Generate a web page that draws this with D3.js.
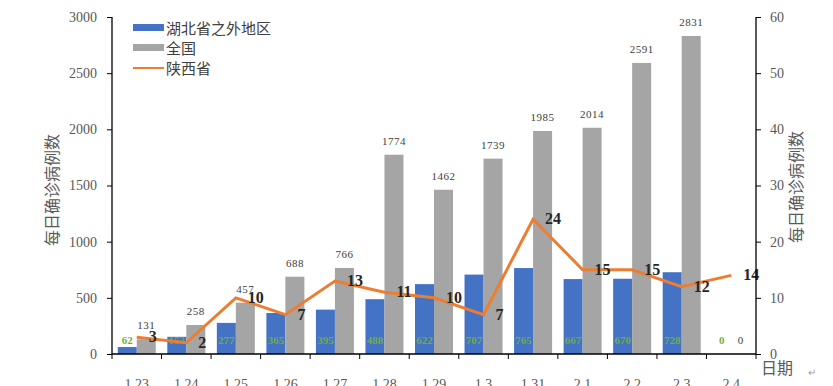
<!DOCTYPE html>
<html>
<head>
<meta charset="utf-8">
<script src="https://cdn.jsdelivr.net/npm/d3@7"></script>
<style>
  body { margin: 0; background: #fff; }
  svg text { font-family: "Liberation Serif", serif; }
</style>
</head>
<body>
<div class="canvas"></div>
<script>
const categories = ['1.23', '1.24', '1.25', '1.26', '1.27', '1.28', '1.29', '1.3', '1.31', '2.1', '2.2', '2.3', '2.4'];
const outsideHubei = [62, 153, 277, 365, 395, 488, 622, 707, 765, 667, 670, 728, 0];
const national = [131, 258, 457, 688, 766, 1774, 1462, 1739, 1985, 2014, 2591, 2831, 0];
const shaanxi = [3, 2, 10, 7, 13, 11, 10, 7, 24, 15, 15, 12, 14];
const leftTicks = [0, 500, 1000, 1500, 2000, 2500, 3000];
const rightTicks = [0, 10, 20, 30, 40, 50, 60];

const dims = { width: 833, height: 386 };
const plot = { left: 112, right: 756, top: 17, bottom: 354 };
const cjk = '"Noto Sans CJK SC", sans-serif';

const svg = d3
  .select('.canvas')
  .append('svg')
  .attr('width', dims.width)
  .attr('height', dims.height);

// scales
const x = d3.scaleBand().domain(categories).range([plot.left, plot.right]);
const yLeft = d3.scaleLinear().domain([0, 3000]).range([plot.bottom, plot.top]);
const yRight = d3.scaleLinear().domain([0, 60]).range([plot.bottom, plot.top]);

const barW = 19;
const blueX = (c) => x(c) + x.bandwidth() / 2 - barW;
const grayX = (c) => x(c) + x.bandwidth() / 2;

// bars
svg
  .selectAll('rect.blue')
  .data(categories)
  .enter()
  .append('rect')
  .attr('x', (d) => blueX(d))
  .attr('y', (d, i) => yLeft(outsideHubei[i]))
  .attr('width', barW)
  .attr('height', (d, i) => plot.bottom - yLeft(outsideHubei[i]))
  .attr('fill', '#4472C4');

svg
  .selectAll('rect.gray')
  .data(categories)
  .enter()
  .append('rect')
  .attr('x', (d) => grayX(d))
  .attr('y', (d, i) => yLeft(national[i]))
  .attr('width', barW)
  .attr('height', (d, i) => plot.bottom - yLeft(national[i]))
  .attr('fill', '#A5A5A5');

// bar labels
svg
  .selectAll('text.blueLbl')
  .data(categories)
  .enter()
  .append('text')
  .attr('x', (d) => blueX(d) + barW / 2)
  .attr('y', 344)
  .attr('text-anchor', 'middle')
  .attr('font-family', 'Roboto, sans-serif')
  .attr('font-weight', 'bold')
  .attr('font-size', 11)
  .attr('fill', '#70AD47')
  .text((d, i) => outsideHubei[i]);

svg
  .selectAll('text.grayLbl')
  .data(categories)
  .enter()
  .append('text')
  .attr('x', (d) => grayX(d) + barW / 2)
  .attr('y', (d, i) => Math.min(yLeft(national[i]) - 10, 344))
  .attr('text-anchor', 'middle')
  .attr('font-size', 11)
  .attr('letter-spacing', 0.5)
  .attr('fill', '#404040')
  .text((d, i) => national[i]);

// orange line
const line = d3
  .line()
  .x((d, i) => x(categories[i]) + x.bandwidth() / 2)
  .y((d) => yRight(d));

svg
  .append('path')
  .datum(shaanxi)
  .attr('d', line)
  .attr('fill', 'none')
  .attr('stroke', '#ED7D31')
  .attr('stroke-width', 3);

svg
  .selectAll('text.lineLbl')
  .data(shaanxi)
  .enter()
  .append('text')
  .attr('x', (d, i) => x(categories[i]) + x.bandwidth() / 2 + 12)
  .attr('y', (d) => yRight(d) + 5)
  .attr('font-weight', 'bold')
  .attr('font-size', 16)
  .attr('fill', '#262626')
  .text((d) => d);

// axes
const leftAxis = svg
  .append('g')
  .attr('transform', `translate(${plot.left},0)`)
  .call(d3.axisLeft(yLeft).tickValues(leftTicks).tickFormat(d3.format('d')).tickSize(5).tickPadding(10));

const rightAxis = svg
  .append('g')
  .attr('transform', `translate(${plot.right},0)`)
  .call(d3.axisRight(yRight).tickValues(rightTicks).tickSize(5).tickPadding(9));

const bottomAxis = svg
  .append('g')
  .attr('transform', `translate(0,${plot.bottom})`)
  .call(d3.axisBottom(x).tickSize(0).tickPadding(25));

// band boundary ticks
bottomAxis
  .selectAll('line.bt')
  .data(categories.concat(['end']))
  .enter()
  .append('line')
  .attr('x1', (d, i) => plot.left + i * x.bandwidth())
  .attr('x2', (d, i) => plot.left + i * x.bandwidth())
  .attr('y1', 0)
  .attr('y2', 5)
  .attr('stroke', '#000');

[leftAxis, rightAxis, bottomAxis].forEach((g) => {
  g.selectAll('path.domain').attr('stroke', '#000').attr('stroke-width', 1.3);
  g.selectAll('.tick line').attr('stroke', '#000');
  g.selectAll('.tick text')
    .attr('font-family', '"Liberation Serif", serif')
    .attr('font-size', 14)
    .attr('fill', '#595959');
});
leftAxis.select('path.domain').attr('d', `M0,${plot.top}V${plot.bottom}`);
rightAxis.select('path.domain').attr('d', `M0,${plot.top}V${plot.bottom}`);
bottomAxis.select('path.domain').attr('d', `M${plot.left},0H${plot.right}`);

// axis titles
svg
  .append('text')
  .attr('transform', 'translate(58,190) rotate(-90)')
  .attr('text-anchor', 'middle')
  .style('font-family', cjk)
  .attr('font-size', 16)
  .attr('fill', '#595959')
  .text('每日确诊病例数');

svg
  .append('text')
  .attr('transform', 'translate(802,187) rotate(-90)')
  .attr('text-anchor', 'middle')
  .style('font-family', cjk)
  .attr('font-size', 16)
  .attr('fill', '#595959')
  .text('每日确诊病例数');

svg
  .append('text')
  .attr('x', 761)
  .attr('y', 374)
  .style('font-family', cjk)
  .attr('font-size', 16)
  .attr('fill', '#595959')
  .text('日期');

svg
  .append('text')
  .attr('x', 808)
  .attr('y', 376)
  .style('font-family', cjk)
  .attr('font-size', 10)
  .attr('fill', '#999')
  .text('↵');

// legend
const legendItems = [
  { name: '湖北省之外地区', color: '#4472C4', type: 'bar' },
  { name: '全国', color: '#A5A5A5', type: 'bar' },
  { name: '陕西省', color: '#ED7D31', type: 'line' },
];

const legend = svg
  .selectAll('g.legend')
  .data(legendItems)
  .enter()
  .append('g')
  .attr('transform', (d, i) => `translate(133, ${28 + i * 20})`);

legend
  .append('rect')
  .attr('x', 0)
  .attr('y', (d) => (d.type === 'bar' ? -4 : -1))
  .attr('width', 31)
  .attr('height', (d) => (d.type === 'bar' ? 7 : 2))
  .attr('fill', (d) => d.color);

legend
  .append('text')
  .attr('x', 33)
  .attr('y', 6)
  .style('font-family', cjk)
  .attr('font-size', 15)
  .attr('fill', '#404040')
  .text((d) => d.name);
</script>
</body>
</html>
